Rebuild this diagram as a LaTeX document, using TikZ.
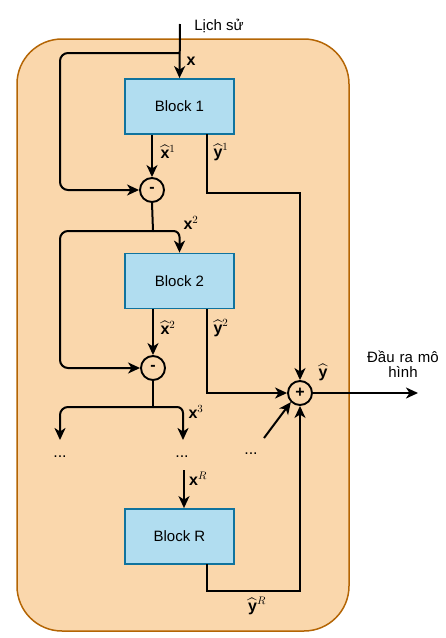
\documentclass[tikz,border=0pt]{standalone}
\usepackage{fontspec}
\setmainfont{Liberation Sans}
\usepackage{amsmath}
\usetikzlibrary{arrows.meta,calc}
\definecolor{frameFill}{HTML}{FAD7AC}
\definecolor{frameDraw}{HTML}{B46504}
\definecolor{blockFill}{HTML}{B1DDF0}
\definecolor{blockDraw}{HTML}{10739E}
\begin{document}
\begin{tikzpicture}[x=1pt,y=-1pt,
  blockbox/.style={draw=blockDraw,fill=blockFill,line width=1.8pt,minimum width=109pt,minimum height=55pt,inner sep=0pt,font=\fontsize{15}{18}\selectfont},
  opcirc/.style={circle,draw=black,line width=1.9pt,minimum size=24pt,inner sep=0pt,font=\fontsize{16}{18}\selectfont\bfseries},
  conn/.style={draw=black,line width=2pt},
  arr/.style={conn,-{Stealth[length=12pt,width=11pt,inset=3.5pt]}},
  lbl/.style={inner sep=0pt,font=\fontsize{16}{18}\selectfont},
  txt/.style={inner sep=0pt,font=\fontsize{15}{18}\selectfont,align=center}]
\useasboundingbox (0,0) rectangle (446,638);
% frame
\draw[fill=frameFill,draw=frameDraw,line width=1.5pt,rounded corners=45pt] (17,39) rectangle (349,631);
% nodes
\node[blockbox] (b1) at (179.5,106.5) {Block 1};
\node[blockbox] (b2) at (179.5,281) {Block 2};
\node[blockbox] (bR) at (179.5,536.5) {Block R};
\node[opcirc] (m1) at (152,190) {-};
\node[opcirc] (m2) at (153,368) {-};
\node[opcirc] (p) at (300,393) {+};
\node[txt] (lich) at (219,26) {Lịch sử};
\node[txt,text width=80pt] (outl) at (403,364) {Đầu ra mô\\[-3pt]hình};
\node[lbl] (d1) at (60,457) {...};
\node[lbl] (d2) at (182,457) {...};
\node[lbl] (d3) at (251,454) {...};
% coordinates
\coordinate (in) at (180,24);
\coordinate (j1) at (180,53);
\coordinate (l1) at (60,120);
\coordinate (y1s) at (207,134);
\coordinate (y1c) at (207,193);
\coordinate (j2) at (153,231);
\coordinate (l2) at (60,300);
\coordinate (y2s) at (207,309);
\coordinate (j3) at (153,407);
\coordinate (e1) at (60,440);
\coordinate (e2) at (183,440);
\coordinate (dg) at (264,438);
\coordinate (xr) at (184,470);
\coordinate (yRs) at (207,564);
\coordinate (yRc) at (207,591);
\coordinate (out) at (418,393);
% connectors
\draw[arr] (in) -- (b1.north);
\draw[arr,rounded corners=8pt] (j1) -| (l1) |- (m1.west);
\draw[arr] (m1 |- b1.south) -- (m1.north);
\draw[arr] (y1s) -- (y1c) -| (p.north);
\draw[conn] (m1.south) -- (j2);
\draw[arr,rounded corners=6pt] (j2) -| (b2.north);
\draw[arr,rounded corners=8pt] (j2) -| (l2) |- (m2.west);
\draw[arr] (m2 |- b2.south) -- (m2.north);
\draw[arr] (y2s) |- (p.west);
\draw[conn] (m2.south) -- (j3);
\draw[arr,rounded corners=8pt] (j3) -| (e1);
\draw[arr,rounded corners=6pt] (j3) -| (e2);
\draw[arr] (dg) -- (p.225);
\draw[arr] (xr) -- (xr |- bR.north);
\draw[arr] (yRs) -- (yRc) -| (p.south);
\draw[arr] (p.east) -- (out);
% labels
\node[lbl] (lx) at (191,61) {$\mathbf{x}$};
\node[lbl] (lxh1) at (168,152) {$\widehat{\mathbf{x}}^1$};
\node[lbl] (lyh1) at (221,152) {$\widehat{\mathbf{y}}^1$};
\node[lbl] (lx2) at (191,223) {$\mathbf{x}^2$};
\node[lbl] (lxh2) at (168,328) {$\widehat{\mathbf{x}}^2$};
\node[lbl] (lyh2) at (221,328) {$\widehat{\mathbf{y}}^2$};
\node[lbl] (lyh) at (323,372) {$\widehat{\mathbf{y}}$};
\node[lbl] (lx3) at (196,412) {$\mathbf{x}^3$};
\node[lbl] (lxR) at (198,479) {$\mathbf{x}^R$};
\node[lbl] (lyhR) at (257,606) {$\widehat{\mathbf{y}}^R$};
\end{tikzpicture}
\end{document}
